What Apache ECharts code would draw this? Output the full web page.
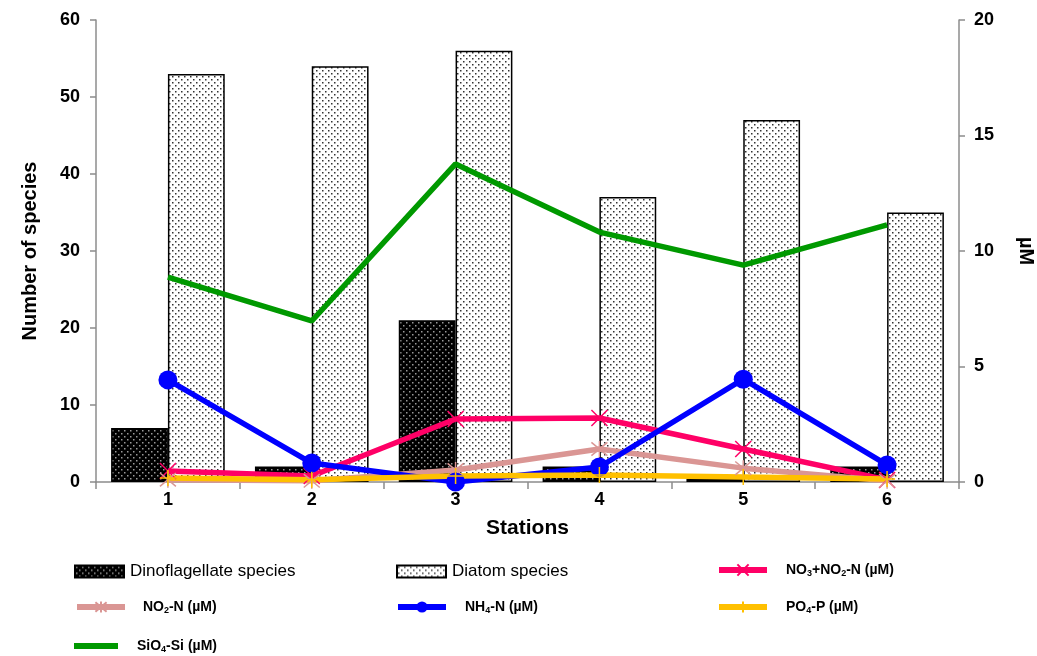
<!DOCTYPE html>
<html><head><meta charset="utf-8">
<script src="https://cdn.jsdelivr.net/npm/echarts@6/dist/echarts.min.js"></script>
<style>html,body{margin:0;padding:0;background:#fff}#c{width:1037px;height:656px}</style>
</head><body><div id="c"></div>
<script>
const stations = ['1','2','3','4','5','6'];
const dinoflagellate = [7, 2, 21, 2, 0.4, 2];
const diatom = [53, 54, 56, 37, 47, 35];
const no3no2 = [0.48, 0.26, 2.73, 2.77, 1.43, 0.09];
const no2 = [0.1, 0.05, 0.52, 1.43, 0.6, 0.05];
const nh4 = [4.42, 0.82, 0.0, 0.65, 4.45, 0.74];
const po4 = [0.17, 0.1, 0.26, 0.3, 0.22, 0.13];
const sio4 = [8.87, 6.97, 13.77, 10.82, 9.39, 11.13];
const leftTicks = [0, 10, 20, 30, 40, 50, 60];
const rightTicks = [0, 5, 10, 15, 20];

function pattern(bg, dot) {
  const c = document.createElement('canvas');
  c.width = 6; c.height = 6;
  const g = c.getContext('2d');
  g.fillStyle = bg; g.fillRect(0, 0, 6, 6);
  g.fillStyle = dot;
  g.fillRect(1, 1, 1.5, 1.5);
  g.fillRect(4, 4, 1.5, 1.5);
  return c;
}
const darkPat = { image: pattern('#000', '#9a9a9a'), repeat: 'repeat' };
const lightPat = { image: pattern('#fff', '#333'), repeat: 'repeat' };

const FONT = 'Liberation Sans, Arial, sans-serif';
const richB = {
  b: { fontFamily: FONT, fontWeight: 'bold', fontSize: 14, color: '#000' },
  s: { fontFamily: FONT, fontWeight: 'bold', fontSize: 9, color: '#000', padding: [8, 0, 0, 0] }
};
const labelMap = {
  'Dinoflagellate species': 'Dinoflagellate species',
  'Diatom species': 'Diatom species',
  'NO3+NO2-N (µM)': '{b|NO}{s|3}{b|+NO}{s|2}{b|-N (µM)}',
  'NO2-N (µM)': '{b| NO}{s|2}{b|-N (µM)}',
  'NH4-N (µM)': '{b|NH}{s|4}{b|-N (µM)}',
  'PO4-P (µM)': '{b|PO}{s|4}{b|-P (µM)}',
  'SiO4-Si (µM)': '{b|SiO}{s|4}{b|-Si (µM)}'
};
function leg(name, left, top, w, gap, kind) {
  const plain = kind === 'bar';
  const item = { name: name };
  if (plain) item.icon = 'rect';
  if (kind === 'plainline') item.icon = 'rect';
  return {
    data: [item], left: left, top: top, itemWidth: w,
    itemHeight: plain ? 12 : (kind === 'plainline' ? 6 : 14),
    itemGap: 0, selectedMode: false, padding: 0,
    lineStyle: { width: 6 },
    formatter: n => labelMap[n],
    textStyle: plain ? { fontFamily: FONT, fontSize: 17, color: '#000', padding: [0, 0, 0, gap - 5] }
                     : { fontFamily: FONT, fontSize: 14, fontWeight: 'bold', color: '#000', padding: [0, 0, 0, gap - 5], rich: richB }
  };
}

const xMark = 'path://M0,0L10,10M10,0L0,10';
const starMark = 'path://M0,0L10,10M10,0L0,10M5,-1L5,11';
const plusMark = 'path://M5,0L5,10M0,5L10,5';

const chart = echarts.init(document.getElementById('c'), null, { renderer: 'canvas' });
chart.setOption({
  animation: false,
  backgroundColor: '#fff',
  grid: { left: 96, right: 78, top: 20, bottom: 174, containLabel: false, outerBoundsMode: 'none' },
  legend: [
    leg('Dinoflagellate species', 74, 563, 49, 6, 'bar'),
    leg('Diatom species', 396, 563, 49, 6, 'bar'),
    leg('NO3+NO2-N (µM)', 716, 563, 48, 19, 'line'),
    leg('NO2-N (µM)', 74, 600, 48, 14, 'line'),
    leg('NH4-N (µM)', 395, 600, 48, 19, 'line'),
    leg('PO4-P (µM)', 716, 600, 48, 19, 'line'),
    leg('SiO4-Si (µM)', 74, 639, 44, 19, 'plainline')
  ],
  xAxis: {
    type: 'category', data: stations,
    name: 'Stations', nameLocation: 'middle', nameGap: 36,
    nameTextStyle: { fontFamily: FONT, fontSize: 21, fontWeight: 'bold', color: '#000' },
    axisLine: { lineStyle: { color: '#8c8c8c', width: 1.5 } },
    axisTick: { show: true, length: 7, lineStyle: { color: '#8c8c8c', width: 1.5 } },
    axisLabel: { fontFamily: FONT, fontSize: 18, fontWeight: 'bold', color: '#000', margin: 9 }
  },
  yAxis: [
    {
      type: 'value', min: 0, max: 60, interval: 10,
      name: 'Number of species', nameLocation: 'middle', nameGap: 56, nameRotate: 90,
      nameTextStyle: { fontFamily: FONT, fontSize: 20, fontWeight: 'bold', color: '#000' },
      axisLine: { show: true, lineStyle: { color: '#8c8c8c', width: 1.5 } },
      axisTick: { show: true, length: 6, lineStyle: { color: '#8c8c8c', width: 1.5 } },
      axisLabel: { fontFamily: FONT, fontSize: 18, fontWeight: 'bold', color: '#000', margin: 16,
        formatter: v => leftTicks.includes(v) ? String(v) : '' },
      splitLine: { show: false }
    },
    {
      type: 'value', min: 0, max: 20, interval: 5, position: 'right',
      name: 'µM', nameLocation: 'middle', nameGap: 57, nameRotate: -90,
      nameTextStyle: { fontFamily: FONT, fontSize: 20, fontWeight: 'bold', color: '#000' },
      axisLine: { show: true, lineStyle: { color: '#8c8c8c', width: 1.5 } },
      axisTick: { show: true, length: 6, lineStyle: { color: '#8c8c8c', width: 1.5 } },
      axisLabel: { fontFamily: FONT, fontSize: 18, fontWeight: 'bold', color: '#000', margin: 15,
        formatter: v => rightTicks.includes(v) ? String(v) : '' },
      splitLine: { show: false }
    }
  ],
  series: [
    { name: 'Dinoflagellate species', type: 'bar', data: dinoflagellate, barGap: '0%', barCategoryGap: '21%',
      itemStyle: { color: darkPat, borderColor: '#000', borderWidth: 1.5 } },
    { name: 'Diatom species', type: 'bar', data: diatom, barGap: '0%', barCategoryGap: '21%',
      itemStyle: { color: lightPat, borderColor: '#000', borderWidth: 1.5 } },
    { name: 'NO3+NO2-N (µM)', type: 'line', yAxisIndex: 1, data: no3no2,
      lineStyle: { color: '#ff0066', width: 5.5 }, symbol: xMark, symbolSize: 16,
      itemStyle: { color: 'rgba(0,0,0,0)', borderColor: '#ff0066', borderWidth: 1.5 } },
    { name: 'NO2-N (µM)', type: 'line', yAxisIndex: 1, data: no2,
      lineStyle: { color: '#da9694', width: 5.5 }, symbol: starMark, symbolSize: 16,
      itemStyle: { color: 'rgba(0,0,0,0)', borderColor: '#da9694', borderWidth: 1.5 } },
    { name: 'NH4-N (µM)', type: 'line', yAxisIndex: 1, data: nh4,
      lineStyle: { color: '#0000ff', width: 5.5 }, symbol: 'circle', symbolSize: 19,
      itemStyle: { color: '#0000ff' } },
    { name: 'PO4-P (µM)', type: 'line', yAxisIndex: 1, data: po4,
      lineStyle: { color: '#ffc000', width: 5.5 }, symbol: plusMark, symbolSize: 16,
      itemStyle: { color: 'rgba(0,0,0,0)', borderColor: '#ffc000', borderWidth: 1.5 } },
    { name: 'SiO4-Si (µM)', type: 'line', yAxisIndex: 1, data: sio4,
      lineStyle: { color: '#009900', width: 5.5 }, symbol: 'none', showSymbol: false,
      itemStyle: { color: '#009900' } }
  ]
});
</script></body></html>
